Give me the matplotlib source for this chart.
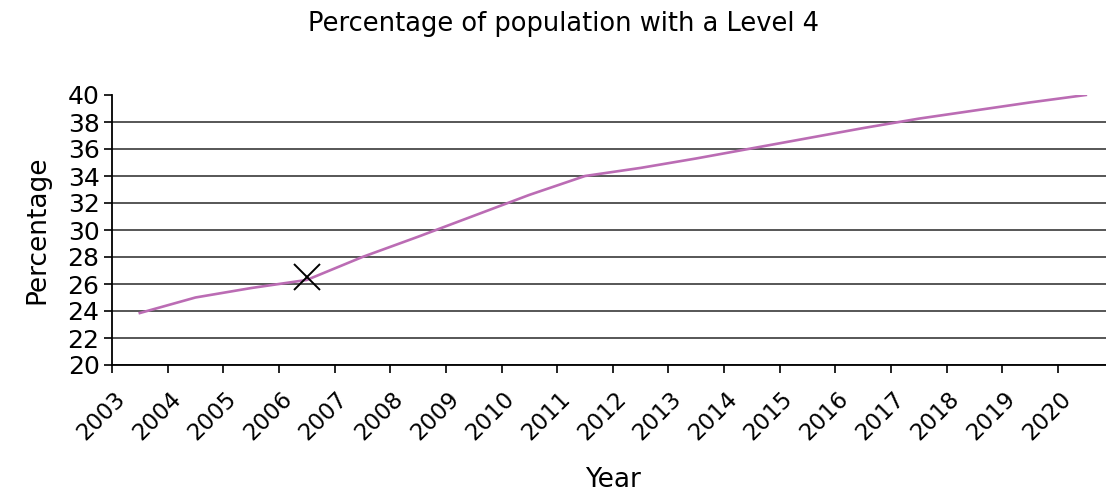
import matplotlib
matplotlib.use('Agg')
import matplotlib.pyplot as plt
from matplotlib.transforms import ScaledTranslation

# values
years = ['2003', '2004', '2005', '2006', '2007', '2008', '2009', '2010', '2011',
         '2012', '2013', '2014', '2015', '2016', '2017', '2018', '2019', '2020']
percent = [23.85, 25.0, 25.7, 26.3, 28.0, 29.5, 31.05, 32.6, 34.0,
           34.6, 35.3, 36.05, 36.8, 37.55, 38.25, 38.85, 39.45, 40.0]
marker_year = '2006'
marker_value = 26.5

y_ticks = list(range(20, 41, 2))

plt.rcParams['font.family'] = ['DejaVu Sans']

fig = plt.figure(figsize=(11.06, 4.93), dpi=100)
# plot area runs slightly past the right edge, as in the reference
ax = fig.add_axes([112 / 1106, 128 / 493, (1113.6 - 112) / 1106, 270 / 493])

x = [i + 0.5 for i in range(len(years))]
ax.plot(x, percent, color='#bb6cb4', linewidth=1.9, zorder=3)
ax.plot(years.index(marker_year) + 0.5, marker_value, marker='x', color='black',
        markersize=19, markeredgewidth=1.4, linestyle='none', zorder=4)

ax.set_xlim(0, len(years))
ax.set_ylim(20, 40)
ax.set_yticks(y_ticks)
ax.tick_params(axis='y', labelsize=18, length=6, width=1.2, direction='out', pad=3)

# ticks on category boundaries, labels at category centres
ax.set_xticks(range(len(years) + 1))
ax.set_xticklabels([])
ax.set_xticks(x, minor=True)
ax.set_xticklabels(years, minor=True, rotation=45, ha='right', fontsize=16.5)
ax.tick_params(axis='x', which='major', length=6, width=1.2, direction='out')
ax.tick_params(axis='x', which='minor', length=0, pad=16)
shift = ScaledTranslation(-0.1, 0, fig.dpi_scale_trans)
for lab in ax.get_xticklabels(minor=True):
    lab.set_transform(lab.get_transform() + shift)

ax.yaxis.grid(True, color='#3a3a3a', linewidth=1.2)
ax.yaxis.get_gridlines()[-1].set_visible(False)
ax.set_axisbelow(True)

for side in ['top', 'right']:
    ax.spines[side].set_visible(False)
for side in ['left', 'bottom']:
    ax.spines[side].set_linewidth(1.3)

ax.set_ylabel('Percentage', fontsize=19, labelpad=12)
ax.set_xlabel('Year', fontsize=19, labelpad=16)
fig.text(563 / 1106, 1 - 24 / 493, 'Percentage of population with a Level 4',
         ha='center', va='center', fontsize=18.5)

fig.savefig('out.png', dpi=100)
